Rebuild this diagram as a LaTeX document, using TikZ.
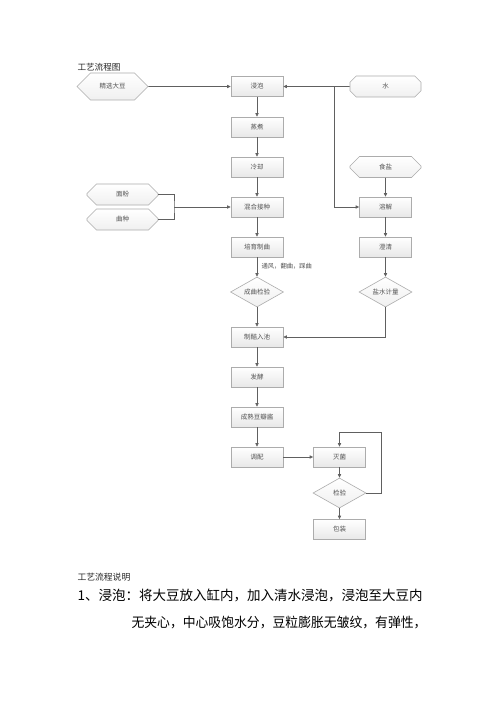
\documentclass[tikz,border=0pt]{standalone}
\usepackage{fontspec}
\setmainfont{Noto Sans CJK SC}
\usetikzlibrary{shapes.geometric,shapes.misc,arrows.meta,shadows}
\begin{document}
\begin{tikzpicture}[x=1pt,y=-1pt,
  boxnode/.style={rectangle,draw=gray!65,line width=0.6pt,top color=white,bottom color=gray!18,
    minimum width=52pt,minimum height=20pt,inner sep=0pt,
    font=\fontsize{6.5}{8}\selectfont,text=gray!65!black,
    drop shadow={shadow xshift=0.7pt,shadow yshift=-0.7pt,opacity=0.35}},
  hexnode/.style={chamfered rectangle,chamfered rectangle xsep=12pt,chamfered rectangle ysep=10.5pt,
    draw=gray!65,line width=0.6pt,top color=white,bottom color=gray!12,
    minimum width=71pt,minimum height=21pt,inner sep=0pt,
    font=\fontsize{6.5}{8}\selectfont,text=gray!65!black},
  decnode/.style={diamond,draw=gray!65,line width=0.6pt,top color=white,bottom color=gray!12,
    minimum width=53pt,minimum height=30pt,inner sep=0pt,aspect=1.75,
    font=\fontsize{6.5}{8}\selectfont,text=gray!65!black},
  link/.style={draw=gray!75!black,line width=0.6pt,-{Triangle[length=3.5pt,width=3.2pt]}},
  plain/.style={draw=gray!75!black,line width=0.6pt}
]
\useasboundingbox[fill=white] (0,0) rectangle (500,706);

\node[anchor=west,font=\fontsize{8.6}{10}\selectfont,text=black!85] (title) at (74,67) {工艺流程图};

% hexagons
\node[hexnode] (jx) at (112.5,86.5) {精选大豆};
\node[hexnode] (shui) at (385.5,86.5) {水};
\node[hexnode] (ys) at (385.5,167) {食盐};
\node[hexnode] (mf) at (122.5,194.5) {面粉};
\node[hexnode] (qz) at (122.5,219.5) {曲种};

% boxes
\node[boxnode] (jp) at (257,86.5) {浸泡};
\node[boxnode] (zz) at (257,127) {蒸煮};
\node[boxnode] (lq) at (257,167) {冷却};
\node[boxnode] (hh) at (257,207) {混合接种};
\node[boxnode] (rj) at (385.5,207) {溶解};
\node[boxnode] (py) at (257,247) {培育制曲};
\node[boxnode] (cq) at (385.5,247) {澄清};
\node[boxnode] (zp) at (257,337) {制醅入池};
\node[boxnode] (fj) at (257,377) {发酵};
\node[boxnode] (cs) at (257,417) {成熟豆瓣酱};
\node[boxnode] (tp) at (257,457) {调配};
\node[boxnode] (mj) at (339.5,457) {灭菌};
\node[boxnode] (bz) at (339.5,529.5) {包装};

% diamonds
\node[decnode] (cj) at (257,292) {成曲检验};
\node[decnode] (ysj) at (385.5,292) {盐水计量};
\node[decnode] (jy) at (339.5,493) {检验};

% coordinates
\coordinate (j1) at (334,86.5);
\coordinate (b1) at (174,207);
\coordinate (lp) at (381,432);

% connectors
\draw[link] (jx) -- (jp);
\draw[link] (shui) -- (jp);
\draw[link] (j1) |- (rj.west);
\draw[link] (jp) -- (zz);
\draw[link] (zz) -- (lq);
\draw[link] (lq) -- (hh);
\draw[link] (hh) -- (py);
\draw[plain] (mf.east) -| (b1) |- (qz.east);
\draw[link] (b1) -- (hh.west);
\draw[link] (ys) -- (rj);
\draw[link] (rj) -- (cq);
\draw[link] (cq) -- (ysj);
\draw[link] (py) -- node[right,pos=0.45,font=\fontsize{6.3}{8}\selectfont,text=gray!65!black,xshift=1pt] (lbl) {通风，翻曲，踩曲} (cj);
\draw[link] (cj) -- (zp);
\draw[link] (ysj.south) |- (zp.east);
\draw[link] (zp) -- (fj);
\draw[link] (fj) -- (cs);
\draw[link] (cs) -- (tp);
\draw[link] (tp) -- (mj);
\draw[link] (mj) -- (jy);
\draw[link] (jy) -- (bz);
\draw[link] (jy.east) -| (lp) -| (mj.north);

% text
\node[anchor=west,font=\fontsize{8.8}{10}\selectfont,text=black!85] (sm) at (74,577) {工艺流程说明};
\node[anchor=west,font=\fontsize{13.5}{16}\selectfont,text=black] (l1) at (74,595) {1、浸泡：将大豆放入缸内，加入清水浸泡，浸泡至大豆内};
\node[anchor=west,font=\fontsize{13.5}{16}\selectfont,text=black] (l2) at (128,623) {\scalebox{0.95}[1]{无夹心，中心吸饱水分，豆粒膨胀无皱纹，有弹性，}};
\end{tikzpicture}
\end{document}
